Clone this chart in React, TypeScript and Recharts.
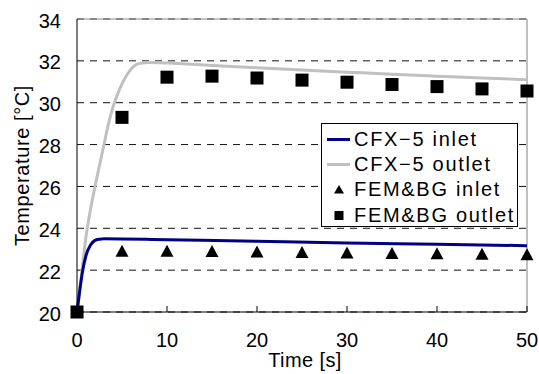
import React from 'react';
import {
  ComposedChart, Line, Scatter, XAxis, YAxis, CartesianGrid, ReferenceLine, Legend,
} from 'recharts';

// CFX-5 inlet curve
const inletTimes = [0, 0.3, 0.6, 1, 1.5, 2, 2.5, 3, 10, 20, 30, 40, 50];
const inletValues = [20, 21.0, 21.9, 22.7, 23.2, 23.42, 23.48, 23.5, 23.45, 23.38, 23.3, 23.24, 23.17];

// CFX-5 outlet curve
const outletTimes = [0, 0.5, 1, 1.5, 2, 2.5, 3, 3.5, 4, 4.5, 5, 5.5, 6, 6.5, 7, 8, 10, 15, 20, 25, 30, 35, 40, 45, 50];
const outletValues = [20, 21.8, 23.6, 24.9, 26.0, 27.0, 28.0, 29.0, 29.8, 30.4, 30.9, 31.3, 31.6, 31.8, 31.88, 31.92, 31.9, 31.78, 31.67, 31.56, 31.46, 31.36, 31.27, 31.18, 31.1];

// FEM&BG points
const femTimes = [0, 5, 10, 15, 20, 25, 30, 35, 40, 45, 50];
const femInlet = [20, 22.9, 22.9, 22.89, 22.87, 22.84, 22.82, 22.8, 22.78, 22.76, 22.74];
const femOutlet = [20, 29.3, 31.22, 31.27, 31.18, 31.08, 30.98, 30.87, 30.77, 30.66, 30.56];

const xTicks = [0, 10, 20, 30, 40, 50];
const yTicks = [20, 22, 24, 26, 28, 30, 32, 34];

const seriesNames = ['CFX\u22125 inlet', 'CFX\u22125 outlet', 'FEM&BG inlet', 'FEM&BG outlet'];

const inletData = inletTimes.map((t, i) => ({ t, v: inletValues[i] }));
const outletData = outletTimes.map((t, i) => ({ t, v: outletValues[i] }));
const femInletData = femTimes.map((t, i) => ({ t, v: femInlet[i] }));
const femOutletData = femTimes.map((t, i) => ({ t, v: femOutlet[i] }));

const FONT = '"Liberation Sans", Arial, sans-serif';

const Triangle = (props: any) => {
  const { cx, cy } = props;
  if (cx == null || cy == null) return null;
  return <polygon points={`${cx},${cy - 6.5} ${cx + 6.5},${cy + 5.5} ${cx - 6.5},${cy + 5.5}`} fill="#000" />;
};

const Square = (props: any) => {
  const { cx, cy } = props;
  if (cx == null || cy == null) return null;
  return <rect x={cx - 6.5} y={cy - 6.5} width={13} height={13} fill="#000" />;
};

const XTick = (props: any) => {
  const { x, y, payload } = props;
  return (
    <g>
      <line x1={x} y1={y} x2={x} y2={y - 6} stroke="#000" strokeWidth={1} />
      <text x={x} y={y + 35} textAnchor="middle" fontSize={20} fontFamily={FONT} fill="#000">
        {payload.value}
      </text>
    </g>
  );
};

const YTick = (props: any) => {
  const { x, y, payload } = props;
  return (
    <text x={x - 16} y={y + 8.5} textAnchor="end" fontSize={20} fontFamily={FONT} fill="#000">
      {payload.value}
    </text>
  );
};

const LegendBox = () => {
  const rows = [
    { kind: 'line', color: '#000080' },
    { kind: 'line', color: '#c0c0c0' },
    { kind: 'tri', color: '#000' },
    { kind: 'sq', color: '#000' },
  ];
  return (
    <div
      style={{
        width: 195,
        height: 102,
        border: '1px solid #000',
        background: '#fff',
        boxSizing: 'content-box',
        position: 'relative',
        fontFamily: FONT,
        fontSize: 20,
      }}
    >
      {rows.map((r, i) => (
        <div
          key={i}
          style={{
            position: 'absolute',
            left: 0,
            top: 2.5 + i * 25.4,
            height: 25,
            width: 195,
            display: 'flex',
            alignItems: 'center',
            whiteSpace: 'nowrap',
            color: '#000',
            lineHeight: '25px',
          }}
        >
          <svg width={32} height={25} style={{ display: 'block', flex: 'none' }}>
            {r.kind === 'line' && <line x1={5} y1={12.5} x2={28} y2={12.5} stroke={r.color} strokeWidth={3} />}
            {r.kind === 'tri' && <polygon points="17,8 22,16.5 12,16.5" fill="#000" />}
            {r.kind === 'sq' && <rect x={12.5} y={8} width={9} height={9} fill="#000" />}
          </svg>
          <span style={{ letterSpacing: '1.7px' }}>{seriesNames[i]}</span>
        </div>
      ))}
    </div>
  );
};

export default function App() {
  return (
    <div style={{ position: 'absolute', left: 0, top: 0 }}>
      <ComposedChart width={539} height={374} margin={{ top: 19, right: 12, bottom: 0, left: 0 }}>
        <CartesianGrid horizontal vertical={false} stroke="#111" strokeDasharray="7 6" />
        <XAxis
          type="number"
          dataKey="t"
          domain={[0, 50]}
          ticks={xTicks}
          height={62}
          tickSize={0}
          tickMargin={0}
          tick={<XTick />}
          axisLine={{ stroke: '#000', strokeWidth: 1 }}
          allowDuplicatedCategory={false}
          label={(p: any) => {
            const vb = p.viewBox;
            return (
              <text x={vb.x + vb.width / 2 + 3} y={vb.y + 55} textAnchor="middle" fontSize={20} fontFamily={FONT} fill="#000" letterSpacing="0.4">
                Time [s]
              </text>
            );
          }}
        />
        <YAxis
          type="number"
          domain={[20, 34]}
          ticks={yTicks}
          width={77}
          tickSize={0}
          tickMargin={0}
          tick={<YTick />}
          axisLine={{ stroke: '#000', strokeWidth: 1 }}
          label={(p: any) => {
            const vb = p.viewBox;
            const cx = 22;
            const cy = vb.y + vb.height / 2;
            return (
              <text x={cx} y={cy} transform={`rotate(-90, ${cx}, ${cy})`} textAnchor="middle" dominantBaseline="central" fontSize={20} fontFamily={FONT} fill="#000" letterSpacing="0.6">
                Temperature [°C]
              </text>
            );
          }}
        />
        <ReferenceLine y={34} stroke="#8a8a8a" strokeWidth={1} />
        <ReferenceLine x={50} stroke="#c0c0c0" strokeWidth={2} />
        <Line data={outletData} dataKey="v" type="monotone" stroke="#c0c0c0" strokeWidth={3} dot={false} isAnimationActive={false} name={seriesNames[1]} />
        <Line data={inletData} dataKey="v" type="monotone" stroke="#000080" strokeWidth={3} dot={false} isAnimationActive={false} name={seriesNames[0]} />
        <Scatter data={femInletData} dataKey="v" shape={<Triangle />} isAnimationActive={false} name={seriesNames[2]} />
        <Scatter data={femOutletData} dataKey="v" shape={<Square />} isAnimationActive={false} name={seriesNames[3]} />
        <Legend
          layout="vertical"
          align="center"
          verticalAlign="middle"
          content={<LegendBox />}
          wrapperStyle={{ left: 321, top: 123, width: 197, height: 104 }}
        />
      </ComposedChart>
    </div>
  );
}
